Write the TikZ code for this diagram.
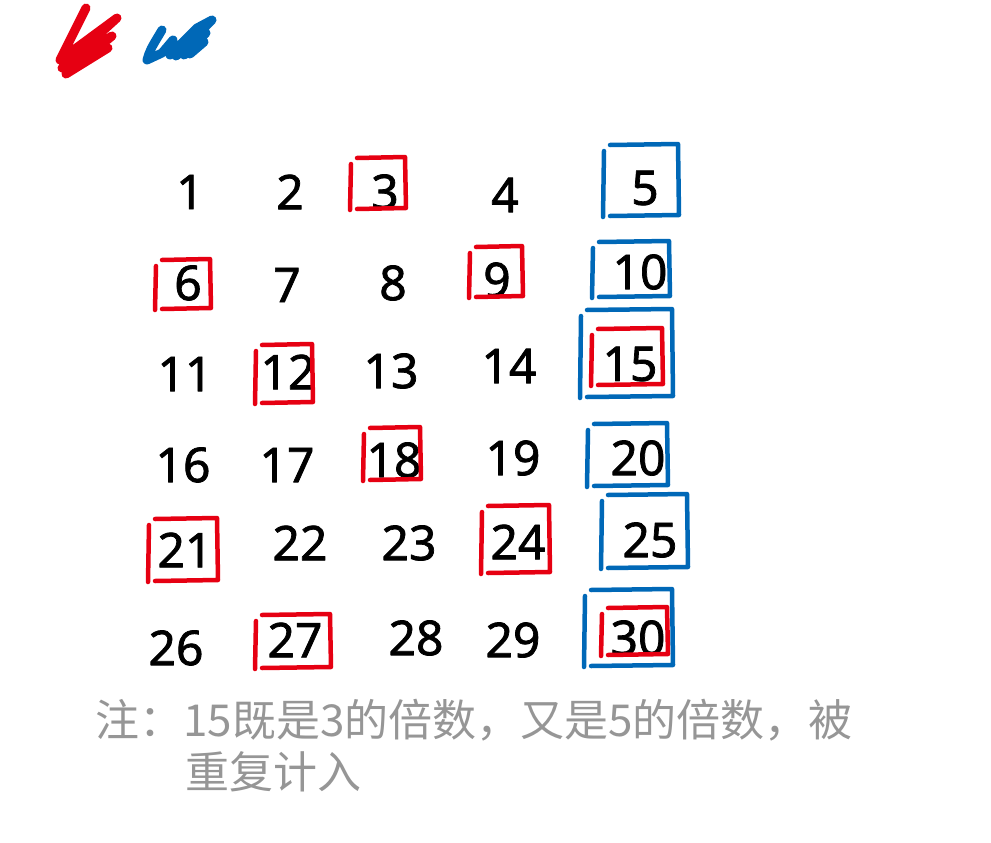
\documentclass[tikz,border=0pt]{standalone}
\usepackage{fontspec}
\setmainfont{Noto Sans}
\newfontfamily\numfont{Noto Sans}[FakeBold=1.5]
\newfontfamily\cjk{Noto Sans CJK SC}
\definecolor{pred}{RGB}{230,0,18}
\definecolor{pblue}{RGB}{0,104,183}
\definecolor{pgray}{RGB}{150,150,150}
\newcommand{\handbox}[5]{%
  \draw[#1] (#2,#3+6) -- (#2-1,#5+2);
  \draw[#1] (#2+6,#3) -- (#4,#3-1) -- (#4+1,#5) -- (#2+6,#5+1);
}
\begin{document}
\begin{tikzpicture}[x=1pt,y=-1pt,line cap=round,line join=round,
  num/.style={font=\numfont\fontsize{48}{48}\selectfont, inner sep=0pt, anchor=center},
  note/.style={font=\cjk\fontsize{44}{44}\selectfont, text=pgray, inner sep=0pt, anchor=west},
  rbox/.style={draw=pred, line width=4.5pt},
  bbox/.style={draw=pblue, line width=4.5pt},
  scrib/.style={line width=9pt}]
\useasboundingbox (0,0) rectangle (991,843);
% legend scribbles
\draw[scrib, pred] (86,8) -- (60,60) -- (117,18) -- (62,68) -- (112,36) -- (66,74) -- (108,48) -- (78,66) -- (104,50);
\draw[scrib, pblue] (162,30) .. controls (150,50) .. (147,60) -- (162,53) -- (173,40) -- (170,55) -- (197,28) -- (212,20) -- (176,56) -- (206,33) -- (184,55) -- (204,42) -- (190,54);
% numbers
\node[num] (n1)  at (190,192) {1};
\node[num] (n2)  at (290,192) {2};
\node[num] (n3)  at (385,192) {3};
\node[num] (n4)  at (505,195) {4};
\node[num] (n5)  at (645,188) {5};
\node[num] (n6)  at (188,283) {6};
\node[num] (n7)  at (287,285) {7};
\node[num] (n8)  at (393,283) {8};
\node[num] (n9)  at (497,280) {9};
\node[num] (n10) at (640,272) {10};
\node[num] (n11) at (185,374) {11};
\node[num] (n12) at (288,372) {12};
\node[num] (n13) at (391,371) {13};
\node[num] (n14) at (509,366) {14};
\node[num] (n15) at (630,364) {15};
\node[num] (n16) at (183,465) {16};
\node[num] (n17) at (287,465) {17};
\node[num] (n18) at (394,460) {18};
\node[num] (n19) at (513,458) {19};
\node[num] (n20) at (638,458) {20};
\node[num] (n21) at (185,550) {21};
\node[num] (n22) at (300,543) {22};
\node[num] (n23) at (409,543) {23};
\node[num] (n24) at (518,542) {24};
\node[num] (n25) at (650,540) {25};
\node[num] (n26) at (176,648) {26};
\node[num] (n27) at (295,640) {27};
\node[num] (n28) at (416,638) {28};
\node[num] (n29) at (513,640) {29};
\node[num] (n30) at (638,638) {30};
% red boxes (multiples of 3)
\handbox{rbox}{351}{158}{405}{208}
\handbox{rbox}{156}{260}{210}{308}
\handbox{rbox}{470}{247}{522}{296}
\handbox{rbox}{256}{345}{312}{402}
\handbox{rbox}{592}{329}{662}{384}
\handbox{rbox}{364}{428}{420}{479}
\handbox{rbox}{149}{519}{217}{580}
\handbox{rbox}{482}{506}{549}{572}
\handbox{rbox}{256}{615}{330}{667}
\handbox{rbox}{602}{608}{667}{654}
% blue boxes (multiples of 5)
\handbox{bbox}{604}{145}{678}{215}
\handbox{bbox}{593}{242}{669}{296}
\handbox{bbox}{581}{310}{672}{396}
\handbox{bbox}{588}{424}{667}{485}
\handbox{bbox}{602}{495}{687}{567}
\handbox{bbox}{585}{590}{672}{665}
% note
\node[note] (t1) at (95,720) {注：15既是3的倍数，又是5的倍数，被};
\node[note] (t2) at (185,772) {重复计入};
\end{tikzpicture}
\end{document}
